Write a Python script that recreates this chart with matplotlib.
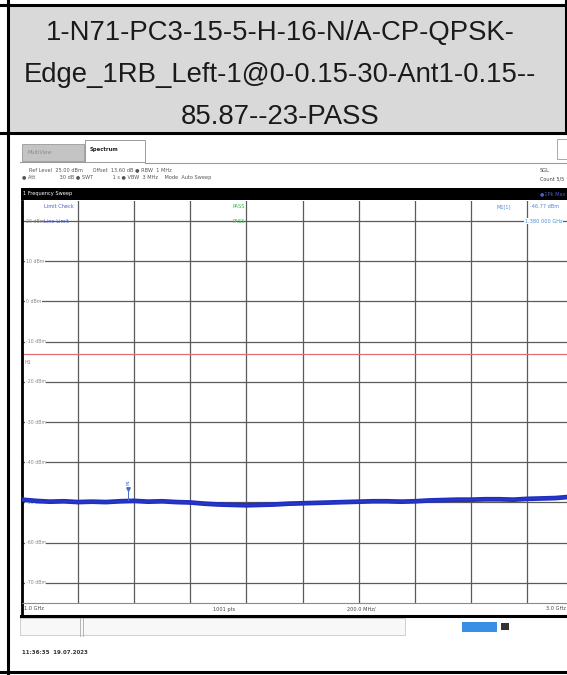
import matplotlib
matplotlib.use("Agg")
import matplotlib.pyplot as plt
from matplotlib.patches import Rectangle

# ---- data ----
title_lines = [
    "1-N71-PC3-15-5-H-16-N/A-CP-QPSK-",
    "Edge_1RB_Left-1@0-0.15-30-Ant1-0.15--",
    "85.87--23-PASS",
]
freq_ghz = [1.00, 1.05, 1.10, 1.15, 1.20, 1.25, 1.30, 1.35, 1.40, 1.45,
            1.50, 1.55, 1.60, 1.65, 1.70, 1.75, 1.80, 1.85, 1.90, 1.95,
            2.00, 2.05, 2.10, 2.15, 2.20, 2.25, 2.30, 2.35, 2.40, 2.45,
            2.50, 2.55, 2.60, 2.65, 2.70, 2.75, 2.80, 2.85, 2.90, 2.95, 3.00]
level_dbm = [-49.3, -49.6, -49.8, -49.7, -49.9, -49.8, -49.9, -49.7, -49.6, -49.8,
             -49.7, -49.9, -50.0, -50.3, -50.5, -50.6, -50.7, -50.6, -50.5, -50.3,
             -50.2, -50.1, -50.0, -49.9, -49.8, -49.7, -49.7, -49.8, -49.7, -49.5,
             -49.4, -49.3, -49.3, -49.2, -49.2, -49.3, -49.1, -49.0, -48.9, -48.6, -48.5]
grid_levels = [20, 10, 0, -10, -20, -30, -40, -50, -60, -70]
grid_freqs = [1.0, 1.2, 1.4, 1.6, 1.8, 2.0, 2.2, 2.4, 2.6, 2.8, 3.0]
limit_dbm = -13
marker_freq = 1.38
marker_level = -46.77

W, H = 567, 675
fig = plt.figure(figsize=(W / 100, H / 100), dpi=100)

# overlay axes in pixel coordinates (origin top-left)
bg = fig.add_axes([0, 0, 1, 1])
bg.set_xlim(0, W)
bg.set_ylim(H, 0)
bg.axis("off")

# ---- table cell with title ----
bg.add_patch(Rectangle((8, 5), 558, 128, facecolor="#d9d9d9", edgecolor="none"))
for y, line in zip([33, 75, 117], title_lines):
    bg.text(280, y, line, ha="center", va="center", fontsize=19.8,
            family="Liberation Sans", color="#1a1a1a")
bg.plot([0, W], [5, 5], color="black", lw=2.2)
bg.plot([0, W], [133, 133], color="black", lw=2.2)
bg.plot([0, W], [672, 672], color="black", lw=2.2)
bg.plot([8, 8], [0, 675], color="black", lw=2.2)
bg.plot([566, 566], [0, 133], color="black", lw=2.2)

# ---- analyzer screen header ----
small = dict(fontsize=3.6, family="DejaVu Sans", va="center")
bg.add_patch(Rectangle((22, 144), 62, 17, facecolor="#c4c4c4", edgecolor="#9a9a9a", lw=0.6))
bg.text(27, 152.5, "MultiView", color="#8a8a8a", **small)
bg.add_patch(Rectangle((85, 140), 60, 22, facecolor="white", edgecolor="#8a8a8a", lw=0.6))
bg.text(90, 150, "Spectrum", color="#222222", fontweight="bold", fontsize=3.8,
        family="DejaVu Sans", va="center")
bg.plot([145, W], [163, 163], color="#9a9a9a", lw=0.8)
bg.plot([20, 85], [162, 162], color="#9a9a9a", lw=0.8)
bg.add_patch(Rectangle((557, 139), 20, 20, facecolor="white", edgecolor="#9a9a9a", lw=0.6))

bg.text(29, 170, "Ref Level  25.00 dBm      Offset  13.60 dB \u25cf RBW  1 MHz",
        color="#555555", **small)
bg.text(22, 178, "\u25cf Att               30 dB \u25cf SWT            1 s \u25cf VBW  3 MHz    Mode  Auto Sweep",
        color="#555555", **small)
bg.text(540, 170, "SGL", color="#444444", **small)
bg.text(540, 179, "Count 5/5", color="#444444", **small)

bg.add_patch(Rectangle((21, 188), 560, 12, facecolor="black", edgecolor="none"))
bg.text(23, 194, "1 Frequency Sweep", color="white", **small)
bg.text(540, 194, "\u25cf1Pk Max", color="#4a5cc8", **small)

# ---- spectrum plot ----
x0, x1, y0, y1 = 21.7, 583.7, 200.9, 603
ax = fig.add_axes([x0 / W, (H - y1) / H, (x1 - x0) / W, (y1 - y0) / H])
ax.set_xlim(1.0, 3.0)
ax.set_ylim(-75, 25)
ax.set_facecolor("white")
for lv in grid_levels:
    ax.axhline(lv, color="#5a5a5a", lw=0.9, zorder=1)
for f in grid_freqs:
    ax.axvline(f, color="#5a5a5a", lw=0.9, zorder=1)
ax.set_xticks([])
ax.set_yticks([])
for s in ["top", "right"]:
    ax.spines[s].set_visible(False)
ax.spines["left"].set_linewidth(2.0)
ax.spines["bottom"].set_color("#8a8a8a")
ax.spines["bottom"].set_linewidth(0.8)

ax.axhline(limit_dbm, color="#e07070", lw=0.9, zorder=2)
ax.text(1.01, limit_dbm - 1.5, "H1", color="#e05050", fontsize=3.4,
        family="DejaVu Sans", va="top")

for lv in grid_levels[1:]:
    ax.text(1.015, lv, f"{lv} dBm", color="#8a8a8a", fontsize=3.4, family="DejaVu Sans",
            va="center", ha="left", zorder=3,
            bbox=dict(facecolor="white", edgecolor="none", pad=0.3))
ax.text(1.015, 20, "20 dBm", color="#8a8a8a", fontsize=3.4, family="DejaVu Sans",
        va="center", ha="left", zorder=3)

ax.plot(freq_ghz, level_dbm, color="#1f2fbf", lw=3.4, solid_capstyle="butt", zorder=4)
ax.plot(freq_ghz, level_dbm, color="#2a38c8", lw=1.0, zorder=5)

ax.plot([marker_freq, marker_freq], [marker_level, marker_level - 2.5], color="#4a6ad0", lw=0.7, zorder=6)
ax.plot([marker_freq], [marker_level], marker="v", ms=2.5, color="#4a6ad0", zorder=6)
ax.text(marker_freq, marker_level + 1.2, "M1", color="#4a6ad0", fontsize=3.0,
        family="DejaVu Sans", ha="center", va="bottom", rotation=90, zorder=6)

# limit check / marker readouts
ax.text(1.08, 23.5, "Limit Check", color="#4a5cc8", fontsize=3.6, family="DejaVu Sans", va="center")
ax.text(1.08, 20.0, "Line Limit", color="#4a5cc8", fontsize=3.6, family="DejaVu Sans", va="center")
ax.text(1.75, 23.5, "PASS", color="#2fbf4f", fontsize=3.6, family="DejaVu Sans", va="center")
ax.text(1.75, 20.0, "PASS", color="#2fbf4f", fontsize=3.6, family="DejaVu Sans", va="center")
ax.text(2.69, 23.5, "M1[1]", color="#4a8ad8", fontsize=3.6, family="DejaVu Sans", va="center")
ax.text(2.81, 23.5, f"{marker_level} dBm", color="#4a8ad8", fontsize=3.6, family="DejaVu Sans", va="center")
ax.text(2.79, 20.0, f"{marker_freq:.3f} 000 GHz", color="#4a8ad8", fontsize=3.6, family="DejaVu Sans", va="center",
        bbox=dict(facecolor="white", edgecolor="none", pad=0.3))

# ---- frequency label row and frame ----
bg.add_patch(Rectangle((21, 603), 560, 12, facecolor="white", edgecolor="none", zorder=1))
bg.text(24, 609, "1.0 GHz", color="#444444", zorder=2, **small)
bg.text(213, 609, "1001 pts", color="#444444", zorder=2, **small)
bg.text(347, 609, "200.0 MHz/", color="#444444", zorder=2, **small)
bg.text(546, 609, "3.0 GHz", color="#444444", zorder=2, **small)
bg.plot([21.7, 21.7], [603, 616], color="black", lw=2.0, zorder=3)
bg.plot([20.7, W], [615.5, 615.5], color="black", lw=2.2, zorder=3)

# ---- status bar and timestamp ----
bg.add_patch(Rectangle((20, 618), 385, 17, facecolor="#f8f8f8", edgecolor="#c8c8c8", lw=0.6))
bg.plot([80, 80], [617, 636], color="#aaaaaa", lw=0.6)
bg.plot([83, 83], [617, 636], color="#aaaaaa", lw=0.6)
bg.add_patch(Rectangle((462, 622), 35, 10, facecolor="#3a8ee6", edgecolor="none"))
bg.add_patch(Rectangle((501, 623), 8, 7, facecolor="#333333", edgecolor="none"))
bg.text(22, 653, "11:36:35  19.07.2023", color="#333333", fontsize=4.0,
        family="DejaVu Sans", fontweight="bold", va="center")

fig.savefig("out.png", dpi=100)
